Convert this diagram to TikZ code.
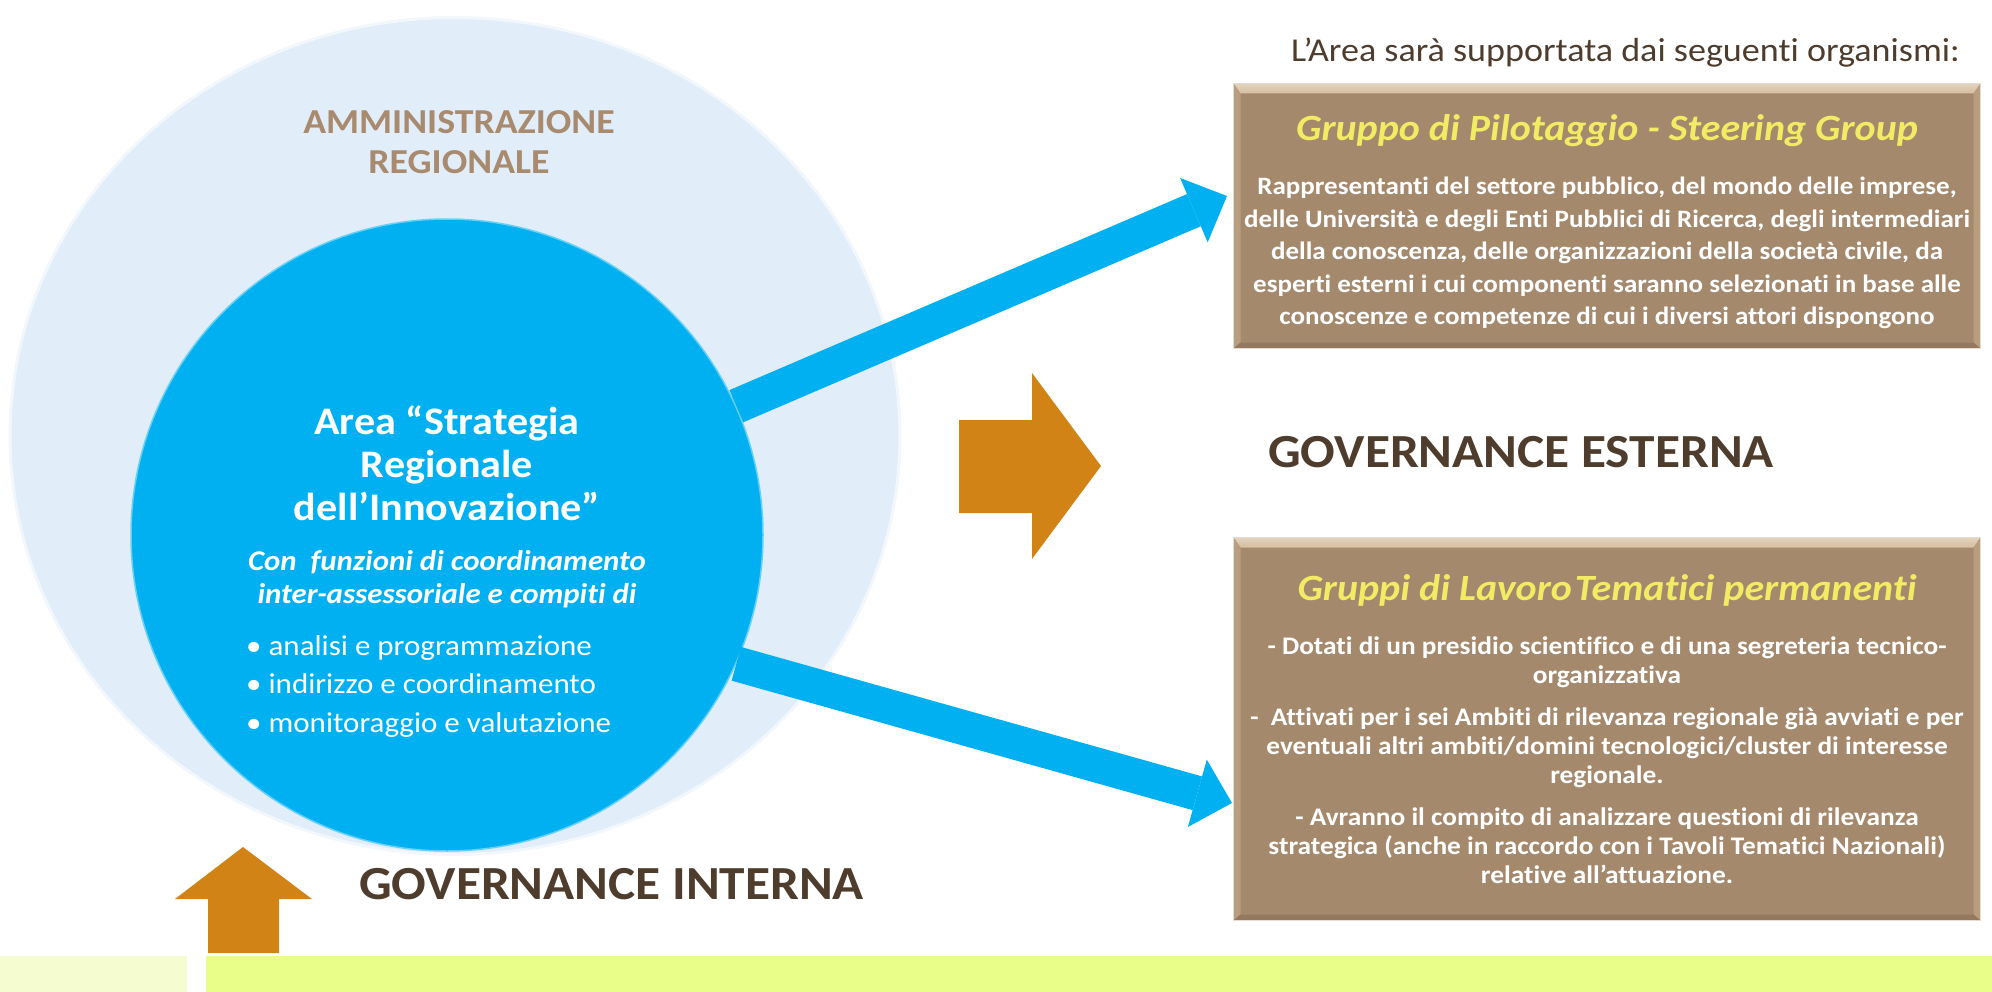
\documentclass[tikz,border=0pt]{standalone}
\usepackage{fontspec}
\setmainfont{Carlito}[FakeStretch=1.08, Ligatures=CommonOff]
\usepackage{tikz}
\usetikzlibrary{calc}
\usetikzlibrary{positioning}
\usetikzlibrary{shapes.geometric}
\usetikzlibrary{arrows.meta}
\definecolor{outerblue}{RGB}{225,237,249}
\definecolor{areablue}{RGB}{0,176,240}
\definecolor{arrorange}{RGB}{209,131,22}
\definecolor{boxbrown}{RGB}{165,137,109}
\definecolor{bevtop}{RGB}{214,190,160}
\definecolor{bevside}{RGB}{184,157,127}
\definecolor{bevbottom}{RGB}{148,121,95}
\definecolor{titleyellow}{RGB}{242,236,100}
\definecolor{darkbrown}{RGB}{78,60,45}
\definecolor{ammtan}{RGB}{168,138,110}
\definecolor{barlime}{RGB}{233,253,137}
\definecolor{barpale}{RGB}{244,252,208}
\tikzset{
	regione/.style={
		ellipse,
		fill=outerblue,
		draw=white!55!outerblue, line width=3pt,
		inner sep=0pt,
		minimum width=890pt,
		minimum height=837pt},
	areacircle/.style={
		circle,
		fill=areablue,
		draw=areablue!60!white, line width=1.5pt,
		inner sep=0pt,
		minimum size=632pt},
	flow/.style={draw=areablue, line width=35pt, -{Triangle[width=70pt, length=36pt, line width=0pt]}},
	blockarrow/.style={fill=arrorange},
	panel/.style={
		rectangle,
		fill=boxbrown,
		draw=white!70!boxbrown, line width=1pt,
		inner sep=0pt,
		minimum width=747pt,
		path picture={
			\coordinate (nw) at (path picture bounding box.north west);
			\coordinate (ne) at (path picture bounding box.north east);
			\coordinate (sw) at (path picture bounding box.south west);
			\coordinate (se) at (path picture bounding box.south east);
			\fill[top color=bevtop!70!white, bottom color=bevtop] (nw) -- (ne) -- ([shift={(-7pt,-10pt)}]ne) -- ([shift={(7pt,-10pt)}]nw) -- cycle;
			\fill[bevside] (nw) -- ([shift={(7pt,-10pt)}]nw) -- ([shift={(7pt,6pt)}]sw) -- (sw) -- cycle;
			\fill[bevside] (ne) -- ([shift={(-7pt,-10pt)}]ne) -- ([shift={(-7pt,6pt)}]se) -- (se) -- cycle;
			\fill[bevbottom] (sw) -- ([shift={(7pt,6pt)}]sw) -- ([shift={(-7pt,6pt)}]se) -- (se) -- cycle;
		}},
	paneltitle/.style={font=\bfseries\itshape\fontsize{37}{44}\selectfont, text=titleyellow, inner sep=0pt},
	paneltext/.style={font=\bfseries\fontsize{25}{32.5}\selectfont, text=white, align=center, inner sep=0pt},
	govtext/.style={font=\bfseries\fontsize{47.5}{56}\selectfont, text=darkbrown, inner sep=0pt},
}

\begin{document}
\begin{tikzpicture}[x=1pt, y=-1pt]
		\useasboundingbox (0,0) rectangle (1992,992);
		\node[regione] (regione) at (455,436) {};
		\node[font=\bfseries\fontsize{35}{40}\selectfont, text=ammtan, align=center, inner sep=0pt] (amm) at (459,142) {AMMINISTRAZIONE\\REGIONALE};
		\node[areacircle] (area) at (447,535) {};
		\node[font=\bfseries\fontsize{39}{43}\selectfont, text=white, align=center, inner sep=0pt, anchor=north] (areatitle) at (447,406) {Area “Strategia\\Regionale\\dell’Innovazione”};
		\node[font=\bfseries\itshape\fontsize{28.6}{33}\selectfont, text=white, align=center, inner sep=0pt, below=29pt of areatitle] (areasub) {Con\ \ funzioni di coordinamento\\inter-assessoriale e compiti di};
		\node[font=\fontsize{28.7}{38.5}\selectfont, text=white, align=left, inner sep=0pt, anchor=north west] (areatasks) at (246,635) {•\ analisi e programmazione\\•\ indirizzo e coordinamento\\•\ monitoraggio e valutazione};

		\node[font=\fontsize{33.4}{40}\selectfont, text=darkbrown, inner sep=0pt, anchor=base east] (intro) at (1960,62) {L’Area sarà supportata dai seguenti organismi:};
		\node[panel, minimum height=265pt, anchor=north west] (pilot) at (1233,83) {};
		\node[paneltitle, anchor=base] (pilottitle) at ($(pilot.north)+(0,58)$) {Gruppo di Pilotaggio - Steering Group};
		\node[paneltext, below=36pt of pilottitle.base] (pilottext) {Rappresentanti del settore pubblico, del mondo delle imprese,\\delle Università e degli Enti Pubblici di Ricerca, degli intermediari\\della conoscenza, delle organizzazioni della società civile, da\\esperti esterni i cui componenti saranno selezionati in base alle\\conoscenze e competenze di cui i diversi attori dispongono};
		\node[panel, minimum height=383pt, anchor=north west] (gruppi) at (1233,537) {};
		\node[paneltitle, anchor=base] (gruppititle) at ($(gruppi.north)+(0,63)$) {Gruppi di Lavoro\hspace{.08em}Tematici permanenti};
		\node[paneltext, font=\bfseries\fontsize{25.3}{29}\selectfont, below=37pt of gruppititle.base] (gruppitext) {- Dotati di un presidio scientifico e di una segreteria tecnico-\\organizzativa\\[13pt]-\ \ Attivati per i sei Ambiti di rilevanza regionale già avviati e per\\eventuali altri ambiti/domini tecnologici/cluster di interesse\\regionale.\\[13pt]- Avranno il compito di analizzare questioni di rilevanza\\strategica (anche in raccordo con i Tavoli Tematici Nazionali)\\relative all’attuazione.};

		\coordinate (pilotin) at (1227,196);
		\coordinate (gruppiin) at (1232,803);
		\draw[flow] (area.24.6) -- (pilotin);
		\draw[flow] (area.-24.1) -- (gruppiin);

		\fill[blockarrow] (959,420) -- (1032,420) -- (1032,373) -- (1101,466) -- (1032,559) -- (1032,513) -- (959,513) -- cycle;
		\node[govtext, anchor=west] (esterna) at (1268,452) {GOVERNANCE ESTERNA};
		\fill[blockarrow] (208,953) -- (208,899) -- (175,899) -- (243,847) -- (312,899) -- (279,899) -- (279,953) -- cycle;
		\node[govtext, anchor=west] (interna) at (359,884.5) {GOVERNANCE INTERNA};

		\fill[barpale] (0,956) rectangle (187,992);
		\fill[barlime] (206,956) rectangle (1992,992);
		\end{tikzpicture}
\end{document}
